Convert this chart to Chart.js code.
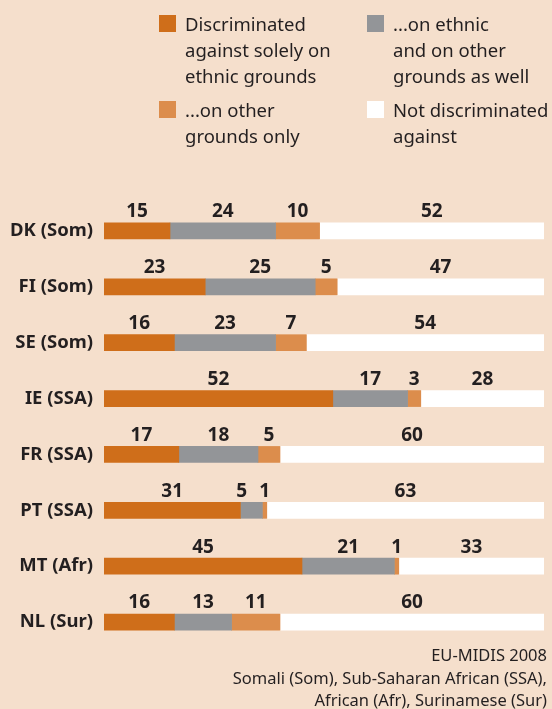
<!DOCTYPE html>
<html>
<head>
<meta charset="utf-8">
<script src="https://cdn.jsdelivr.net/npm/chart.js@4.4.1/dist/chart.umd.min.js"></script>
<style>
  html, body { margin: 0; padding: 0; background: #F5DFCC; }
  #wrap { position: relative; width: 552px; height: 709px; overflow: hidden; }
  #c { position: absolute; left: 0; top: 0; }
  .leg { position: absolute; font-family: "Noto Sans", sans-serif; font-size: 18.5px; line-height: 26px; color: #231F20; white-space: nowrap; }
  .leg .sw { position: absolute; left: -26px; top: 4px; width: 17px; height: 17px; }
  .foot { position: absolute; right: 5px; font-family: "Noto Sans", sans-serif; font-size: 16.5px; line-height: 22.5px; color: #231F20; text-align: right; white-space: nowrap; }
</style>
</head>
<body>
<div id="wrap">
  <canvas id="c" width="552" height="709"></canvas>
  <div id="legend"></div>
  <div class="foot" style="top:644px">EU-MIDIS 2008<br>Somali (Som), Sub-Saharan African (SSA),<br>African (Afr), Surinamese (Sur)</div>
</div>
<script>
const categories = ['DK (Som)', 'FI (Som)', 'SE (Som)', 'IE (SSA)', 'FR (SSA)', 'PT (SSA)', 'MT (Afr)', 'NL (Sur)'];
const seriesNames = [
  'Discriminated against solely on ethnic grounds',
  '...on ethnic and on other grounds as well',
  '...on other grounds only',
  'Not discriminated against'
];
const legendLines = [
  ['Discriminated', 'against solely on', 'ethnic grounds'],
  ['...on ethnic', 'and on other', 'grounds as well'],
  ['...on other', 'grounds only'],
  ['Not discriminated', 'against']
];
const solelyEthnic   = [15, 23, 16, 52, 17, 31, 45, 16];
const ethnicAndOther = [24, 25, 23, 17, 18, 5, 21, 13];
const otherOnly      = [10, 5, 7, 3, 5, 1, 1, 11];
const notDiscrim     = [52, 47, 54, 28, 60, 63, 33, 60];
const colors = ['#CF6E1A', '#939598', '#DC8D4C', '#FFFFFF'];

const seriesValues = [solelyEthnic, ethnicAndOther, otherOnly, notDiscrim];

// Bold value written above the middle of each segment;
// labels that would touch are pushed apart to the left
const valueLabels = {
  id: 'valueLabels',
  afterDatasetsDraw(chart) {
    const ctx = chart.ctx;
    const gap = 12;
    ctx.save();
    ctx.font = 'bold 19px "Noto Sans", sans-serif';
    ctx.fillStyle = '#231F20';
    ctx.textAlign = 'center';
    ctx.textBaseline = 'middle';
    const n = chart.data.labels.length;
    for (let j = 0; j < n; j++) {
      const row = chart.data.datasets.map((ds, i) => {
        const bar = chart.getDatasetMeta(i).data[j];
        const p = bar.getProps(['x', 'y', 'base'], true);
        const right = Math.min(p.x, chart.chartArea.right);
        const text = String(ds.data[j]);
        return { text, x: (p.base + right) / 2, y: p.y - 19, w: ctx.measureText(text).width };
      });
      for (let k = row.length - 2; k >= 0; k--) {
        const a = row[k], b = row[k + 1];
        const overlap = (a.x + a.w / 2 + gap) - (b.x - b.w / 2);
        if (overlap > 0) a.x -= overlap;
      }
      row.forEach(l => ctx.fillText(l.text, l.x, l.y));
    }
    ctx.restore();
  }
};

const chart = new Chart(document.getElementById('c'), {
  type: 'bar',
  data: {
    labels: categories,
    datasets: seriesValues.map((vals, i) => ({
      label: seriesNames[i],
      data: vals,
      backgroundColor: colors[i],
      borderWidth: 0,
      barThickness: 16
    }))
  },
  options: {
    indexAxis: 'y',
    responsive: false,
    animation: false,
    devicePixelRatio: 1,
    layout: { padding: { left: 0, right: 8, top: 203, bottom: 59 } },
    plugins: { legend: { display: false }, tooltip: { enabled: false } },
    scales: {
      x: { stacked: true, min: 0, max: 100, display: false },
      y: {
        stacked: true,
        grid: { display: false, drawTicks: false },
        border: { display: false },
        ticks: {
          padding: 11,
          color: '#231F20',
          font: { family: '"Noto Sans", sans-serif', size: 18.5, weight: 'bold' }
        },
        afterFit(scale) { scale.width = 104; }
      }
    }
  },
  plugins: [valueLabels]
});

// Legend built from the chart's own datasets
const legendPos = [[185, 11], [393, 11], [185, 97], [393, 97]];
const legendEl = document.getElementById('legend');
chart.data.datasets.forEach((ds, i) => {
  const d = document.createElement('div');
  d.className = 'leg';
  d.style.left = legendPos[i][0] + 'px';
  d.style.top = legendPos[i][1] + 'px';
  const sw = document.createElement('span');
  sw.className = 'sw';
  sw.style.background = ds.backgroundColor;
  d.appendChild(sw);
  legendLines[i].forEach((t, k) => {
    if (k) d.appendChild(document.createElement('br'));
    d.appendChild(document.createTextNode(t));
  });
  legendEl.appendChild(d);
});
</script>
</body>
</html>
